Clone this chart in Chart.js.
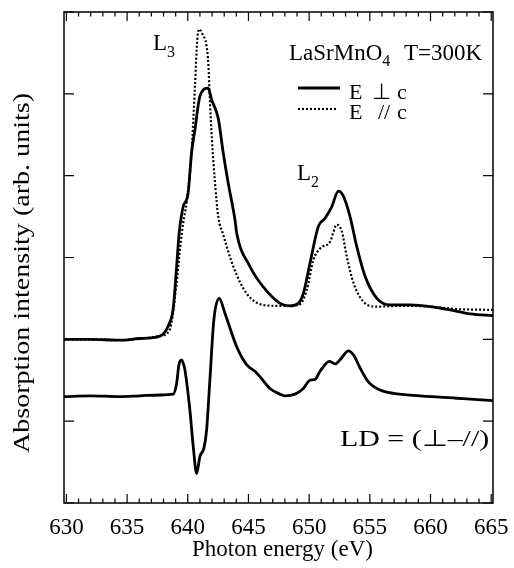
<!DOCTYPE html>
<html>
<head>
<meta charset="utf-8">
<script src="https://cdn.jsdelivr.net/npm/chart.js@4.4.1/dist/chart.umd.min.js"></script>
<style>
html,body{margin:0;padding:0;background:#fff;}
canvas{display:block;}
</style>
</head>
<body>
<canvas id="c" width="514" height="568"></canvas>
<script>
// ---- data ----
const xTickValues = [630, 635, 640, 645, 650, 655, 660, 665];
const xAxisTitle = 'Photon energy (eV)';
const yAxisTitle = 'Absorption intensity (arb. units)';

// E ⊥ c (solid)
const perpEnergy = [629.8, 631.9, 634.4, 636.05, 637.7, 638.38, 638.8, 639.08, 639.29, 639.49, 639.62, 640.03, 640.31, 640.59, 641.0, 641.68, 641.96, 642.51, 642.92, 643.33, 643.89, 644.03, 645.12, 646.22, 647.6, 648.42, 649.11, 649.52, 650.07, 650.76, 651.31, 651.86, 652.41, 652.82, 653.37, 653.93, 654.61, 655.58, 656.67, 658.33, 659.98, 661.63, 663.28, 665.15];
const perpIntensity = [2.00, 2.00, 1.99, 2.01, 2.04, 2.16, 2.38, 2.89, 3.30, 3.52, 3.62, 3.79, 4.28, 4.56, 4.97, 5.07, 4.93, 4.70, 4.28, 3.91, 3.46, 3.30, 2.89, 2.64, 2.44, 2.41, 2.44, 2.56, 2.93, 3.38, 3.48, 3.62, 3.81, 3.75, 3.50, 3.13, 2.77, 2.50, 2.42, 2.42, 2.40, 2.36, 2.31, 2.29];

// E // c (dotted)
const paraEnergy = [629.8, 631.9, 634.4, 636.05, 637.7, 638.52, 639.08, 639.35, 639.62, 639.9, 640.31, 640.59, 640.78, 640.94, 641.24, 641.53, 641.7, 641.82, 641.99, 642.24, 642.51, 642.92, 643.75, 644.85, 646.22, 647.33, 648.42, 649.25, 649.8, 650.35, 650.9, 651.72, 652.28, 652.69, 653.1, 653.65, 654.47, 655.58, 657.77, 659.98, 662.18, 665.15];
const paraIntensity = [2.00, 2.00, 1.99, 2.01, 2.04, 2.12, 2.69, 3.09, 3.42, 3.67, 4.28, 5.09, 5.66, 5.79, 5.72, 5.60, 5.35, 4.93, 4.44, 3.92, 3.50, 3.28, 2.89, 2.56, 2.42, 2.41, 2.41, 2.43, 2.60, 2.97, 3.11, 3.19, 3.40, 3.32, 3.01, 2.69, 2.46, 2.40, 2.41, 2.40, 2.37, 2.36];

// LD = (⊥ − //)
const ldEnergy = [629.8, 631.9, 634.4, 636.05, 637.7, 638.8, 639.08, 639.27, 639.49, 639.64, 639.76, 640.17, 640.45, 640.73, 641.0, 641.33, 641.55, 641.82, 642.15, 642.59, 643.06, 644.03, 644.85, 645.68, 646.77, 647.6, 648.01, 648.84, 649.52, 650.07, 650.49, 650.9, 651.67, 652.14, 652.55, 653.23, 653.65, 654.2, 654.88, 655.85, 656.95, 659.15, 662.18, 663.28, 665.15];
const ldIntensity = [1.30, 1.31, 1.30, 1.31, 1.32, 1.33, 1.46, 1.69, 1.75, 1.70, 1.63, 1.14, 0.69, 0.36, 0.57, 0.67, 0.89, 1.50, 2.24, 2.50, 2.32, 1.91, 1.69, 1.59, 1.40, 1.33, 1.31, 1.33, 1.40, 1.50, 1.51, 1.61, 1.73, 1.70, 1.75, 1.86, 1.81, 1.65, 1.48, 1.38, 1.34, 1.31, 1.28, 1.27, 1.25];

const toPoints = (xs, ys) => xs.map((x, i) => ({x: x, y: ys[i]}));

const SERIF = "'Liberation Serif', 'Times New Roman', serif";

const framePlugin = {
  id: 'frame',
  afterDatasetsDraw(chart) {
    const {ctx, chartArea: a, scales: {x, y}} = chart;
    ctx.save();
    ctx.strokeStyle = '#000';
    ctx.lineWidth = 1.5;
    ctx.strokeRect(a.left, a.top, a.right - a.left, a.bottom - a.top);
    ctx.lineWidth = 1.2;
    ctx.beginPath();
    for (let v = 630; v <= 665; v++) {
      const px = x.getPixelForValue(v);
      const len = (v % 5 === 0) ? 9 : 4.5;
      ctx.moveTo(px, a.bottom); ctx.lineTo(px, a.bottom - len);
      ctx.moveTo(px, a.top); ctx.lineTo(px, a.top + len);
    }
    for (let v = 0; v <= 6; v++) {
      const py = y.getPixelForValue(v);
      ctx.moveTo(a.left, py); ctx.lineTo(a.left + 10, py);
      ctx.moveTo(a.right, py); ctx.lineTo(a.right - 10, py);
    }
    ctx.stroke();

    ctx.fillStyle = '#000';
    ctx.textBaseline = 'alphabetic';
    ctx.textAlign = 'left';
    const big = '23px ' + SERIF, sub = '16px ' + SERIF;

    // x-axis title
    ctx.save();
    ctx.font = big;
    ctx.textAlign = 'center';
    ctx.fillText(xAxisTitle, 282.5, 556);
    ctx.restore();

    // y-axis title (stretched along its length like the reference)
    ctx.save();
    ctx.translate(29, 273);
    ctx.rotate(-Math.PI / 2);
    ctx.scale(1.22, 1);
    ctx.font = big;
    ctx.textAlign = 'center';
    ctx.fillText(yAxisTitle, 0, 0);
    ctx.restore();

    // L3
    ctx.font = big; ctx.fillText('L', 153, 50);
    ctx.font = sub; ctx.fillText('3', 167, 57);
    // L2
    ctx.font = big; ctx.fillText('L', 297, 180);
    ctx.font = sub; ctx.fillText('2', 311, 187);
    // legend title
    ctx.font = big;
    ctx.fillText('LaSrMnO', 289, 60);
    const w = ctx.measureText('LaSrMnO').width;
    ctx.font = sub; ctx.fillText('4', 289 + w, 66);
    ctx.font = big; ctx.fillText('T=300K', 404, 60);
    // legend entries
    ctx.lineWidth = 3;
    ctx.setLineDash([]);
    ctx.beginPath(); ctx.moveTo(298, 88); ctx.lineTo(340, 88); ctx.stroke();
    ctx.lineWidth = 2.2;
    ctx.setLineDash([2, 2]);
    ctx.beginPath(); ctx.moveTo(298, 109); ctx.lineTo(338, 109); ctx.stroke();
    ctx.setLineDash([]);
    ctx.font = '22px ' + SERIF;
    ctx.fillText('E', 349, 99);
    ctx.fillText('\u22A5', 372, 99);
    ctx.fillText('c', 397, 99);
    ctx.fillText('E', 349, 119);
    ctx.fillText('//', 378, 119);
    ctx.fillText('c', 397, 119);
    // LD label (wide, like the reference)
    ctx.save();
    ctx.translate(340, 446);
    ctx.scale(1.3, 1);
    ctx.font = big;
    ctx.fillText('LD = (\u22A5\u2013//)', 0, 0);
    ctx.restore();
    ctx.restore();
  }
};

new Chart(document.getElementById('c'), {
  type: 'line',
  data: {
    datasets: [
      {label: 'E \u22A5 c', data: toPoints(perpEnergy, perpIntensity), borderColor: '#000', borderWidth: 2.8, pointRadius: 0, fill: false, cubicInterpolationMode: 'monotone'},
      {label: 'E // c', data: toPoints(paraEnergy, paraIntensity), borderColor: '#000', borderWidth: 2.2, borderDash: [2, 2], pointRadius: 0, fill: false, cubicInterpolationMode: 'monotone'},
      {label: 'LD = (\u22A5\u2013//)', data: toPoints(ldEnergy, ldIntensity), borderColor: '#000', borderWidth: 2.8, pointRadius: 0, fill: false, cubicInterpolationMode: 'monotone'}
    ]
  },
  options: {
    responsive: false,
    animation: false,
    layout: {padding: {top: 12, right: 21, left: 0, bottom: 0}},
    plugins: {legend: {display: false}, tooltip: {enabled: false}},
    scales: {
      x: {
        type: 'linear',
        min: 629.8,
        max: 665.15,
        afterBuildTicks: (s) => { s.ticks = xTickValues.map(v => ({value: v})); },
        afterFit: (s) => { s.height = 65; s.paddingLeft = 0; s.paddingRight = 0; },
        grid: {display: false, drawTicks: false},
        border: {display: false},
        ticks: {color: '#000', font: {family: SERIF, size: 23}, padding: 11, maxRotation: 0, autoSkip: false},
        title: {display: false, text: xAxisTitle}
      },
      y: {
        min: 0,
        max: 6,
        afterFit: (s) => { s.width = 64; s.paddingTop = 0; s.paddingBottom = 0; },
        grid: {display: false, drawTicks: false},
        border: {display: false},
        ticks: {display: false},
        title: {display: false, text: yAxisTitle}
      }
    }
  },
  plugins: [framePlugin]
});
</script>
</body>
</html>
